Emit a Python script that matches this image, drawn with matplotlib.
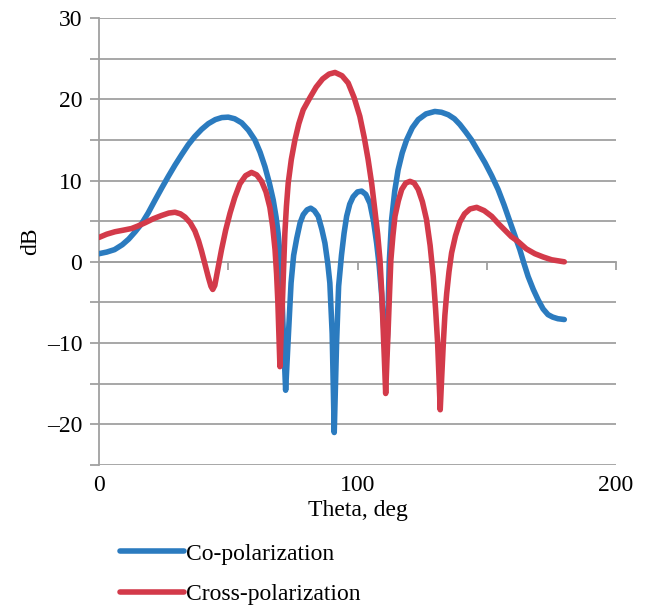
import matplotlib
matplotlib.use("Agg")
import matplotlib.pyplot as plt
from matplotlib.ticker import FuncFormatter

plt.rcParams['font.family'] = ['Liberation Serif', 'DejaVu Serif']

# Co-polarization (blue)
co_theta = [0, 3, 6, 9, 11.5, 14, 16.5, 19, 21.7, 24.3, 26.8, 29.4, 32, 34.5, 37, 39.7, 42.3, 45, 47.5, 50,
            52.5, 55.2, 57.8, 60.3, 62.3, 64.2, 65.9, 67.4, 68.5, 69.3, 70.1, 70.6, 71.3, 72.2, 73.3, 74.3,
            75.3, 76.5, 77.8, 79, 80.5, 81.9, 83.3, 84.8, 86.2, 87.4, 88.5, 89.3, 90.2, 91.0, 91.9, 92.7,
            93.8, 94.8, 95.8, 97, 98.3, 100, 101.6, 103.2, 104.8, 106.2, 107.4, 108.4, 109.3, 110.3, 110.9,
            111.6, 112.3, 113.2, 114.4, 115.7, 117.3, 119, 121.2, 123.5, 126.5, 129.9, 132.5, 135.1, 137.5,
            139.6, 141.8, 144.1, 146.7, 149.3, 151.9, 154.4, 156.7, 158.9, 160.9, 162.8, 164.4, 166, 168,
            169.9, 171.8, 173.7, 175.5, 177.5, 180]
co_db = [1.0, 1.2, 1.5, 2.1, 2.8, 3.7, 4.7, 6.0, 7.6, 9.1, 10.5, 11.9, 13.2, 14.4, 15.4, 16.3, 17.0, 17.5, 17.75, 17.8,
         17.6, 17.1, 16.2, 15.0, 13.5, 11.7, 9.7, 7.6, 5.5, 3.5, 0.5, -2.6, -8.8, -15.8, -8.8, -2.6,
         0.8, 2.9, 4.8, 5.8, 6.4, 6.6, 6.3, 5.6, 4.0, 2.3, -0.2, -2.6, -8.8, -21.0, -10.0, -3.0,
         0.8, 3.5, 5.6, 7.1, 8.0, 8.6, 8.7, 8.3, 7.2, 5.0, 2.3, -0.5, -3.9, -9.0, -13.0,
         -9.0, 0.0, 5.2, 8.7, 11.3, 13.4, 15.0, 16.5, 17.5, 18.2, 18.5, 18.4, 18.1, 17.6,
         16.9, 16.0, 15.0, 13.6, 12.2, 10.6, 8.9, 7.0, 5.0, 3.2, 1.5, -0.2, -1.8, -3.4,
         -4.7, -5.8, -6.5, -6.8, -7.0, -7.1]

# Cross-polarization (red)
cross_theta = [0, 3, 6.2, 9.5, 12.6, 15, 17.8, 21, 24.2, 27, 29.4, 31.5, 33.3, 35.3, 37.1, 38.5, 39.7, 41, 42.3,
               43.3, 44, 44.8, 45.8, 47.4, 49, 50.7, 52.5, 54.5, 56.7, 59, 61, 62.9, 64.6, 66.1, 67.2, 68.1,
               68.7, 69.2, 69.6, 70.0, 70.5, 71.0, 71.5, 71.9, 72.5, 73.2, 74.4, 75.8, 77.3, 79, 81.6, 84,
               86.5, 89, 91.3, 94, 96.4, 98.7, 100.9, 102.6, 104.1, 105.5, 106.7, 107.8, 108.7, 109.4, 109.9,
               110.4, 110.9, 111.4, 111.9, 112.4, 112.9, 113.7, 114.5, 115.8, 117.1, 118.7, 120.3, 121.9,
               123.5, 125.1, 126.7, 128.1, 129.3, 130.2, 131, 131.5, 132, 132.6, 133.2, 133.8, 134.5, 135.4,
               136.4, 137.9, 139.6, 141.4, 143.5, 146.1, 149, 151.9, 154.5, 157, 159.5, 162.1, 165.3, 168.6,
               171.8, 175.1, 180]
cross_db = [3.0, 3.4, 3.7, 3.9, 4.1, 4.4, 4.8, 5.3, 5.7, 6.0, 6.1, 5.9, 5.5, 4.8, 3.8, 2.6, 1.3, -0.3, -1.9,
            -3.0, -3.4, -2.9, -1.2, 1.5, 3.9, 6.0, 7.9, 9.6, 10.6, 11.0, 10.7, 9.9, 8.6, 6.7, 4.3, 1.5,
            -1.5, -5.0, -9.0, -12.9, -8.5, -4.5, 0.0, 3.5, 6.8, 9.7, 12.6, 15.0, 17.0, 18.7, 20.2, 21.5,
            22.5, 23.1, 23.3, 22.9, 22.0, 20.2, 17.9, 15.3, 12.6, 9.6, 6.4, 3.4, 0.2, -3.9, -8.0,
            -12.0, -16.2, -12.0, -8.0, -3.8, 0.2, 3.2, 5.6, 7.5, 8.9, 9.7, 9.9, 9.7,
            8.9, 7.4, 5.2, 2.0, -1.8, -5.8, -10.0, -14.0, -18.2, -14.0, -10.0, -6.6, -3.9, -1.2,
            1.1, 3.2, 4.9, 5.9, 6.5, 6.7, 6.3, 5.6, 4.7, 3.9, 3.1, 2.5, 1.6, 1.0,
            0.6, 0.25, 0.0]

labels = ['Co-polarization', 'Cross-polarization']
colors = ['#2b7bbf', '#d33a4a']
x_tick_labels = [0, 100, 200]

W, H = 646, 608
fig = plt.figure(figsize=(W / 100, H / 100), dpi=100)
ax = fig.add_axes([99 / W, 1 - 465 / H, 517 / W, 447 / H])

grey = '#a0a0a0'
fs = 17
lw = 4.0

l1, = ax.plot(co_theta, co_db, color=colors[0], lw=lw, solid_joinstyle='round', solid_capstyle='round', zorder=3)
l2, = ax.plot(cross_theta, cross_db, color=colors[1], lw=lw, solid_joinstyle='round', solid_capstyle='round', zorder=4)

ax.set_xlim(0, 200)
ax.set_ylim(-25, 30)
ax.set_yticks(range(-25, 31, 5))
ax.yaxis.set_major_formatter(FuncFormatter(
    lambda v, p: (f'{v:.0f}'.replace('-', '\u2013')) if round(v) % 10 == 0 else ''))
ax.yaxis.grid(True, color=grey, lw=1.3)
ax.set_axisbelow(True)
ax.tick_params(axis='y', length=6.5, width=1.3, color=grey, pad=5.5, labelsize=fs)

for s in ['top', 'right']:
    ax.spines[s].set_visible(False)
ax.spines['left'].set_color(grey)
ax.spines['left'].set_linewidth(1.3)
ax.spines['bottom'].set_position(('data', 0))
ax.spines['bottom'].set_color(grey)
ax.spines['bottom'].set_linewidth(1.3)
ax.set_xticks([50, 100, 150, 200])
ax.tick_params(axis='x', length=6, width=1.3, color=grey, labelbottom=False)

sec = ax.secondary_xaxis('bottom')
sec.set_xticks(x_tick_labels)
sec.set_xticklabels([str(v) for v in x_tick_labels])
sec.tick_params(length=0, pad=7, labelsize=fs)
sec.spines['bottom'].set_visible(False)
sec.set_xlabel('Theta, deg', fontsize=fs, labelpad=3)

ax.set_ylabel('dB', fontsize=fs)
ax.yaxis.set_label_coords(-0.112, 0.5)

fig.legend([l1, l2], labels, loc='upper left', bbox_to_anchor=(120 / W, 1 - 543 / H),
           frameon=False, fontsize=fs, handlelength=2.7, handletextpad=0.1,
           labelspacing=0.8, borderpad=0, borderaxespad=0)

fig.savefig('out.png', dpi=100)
